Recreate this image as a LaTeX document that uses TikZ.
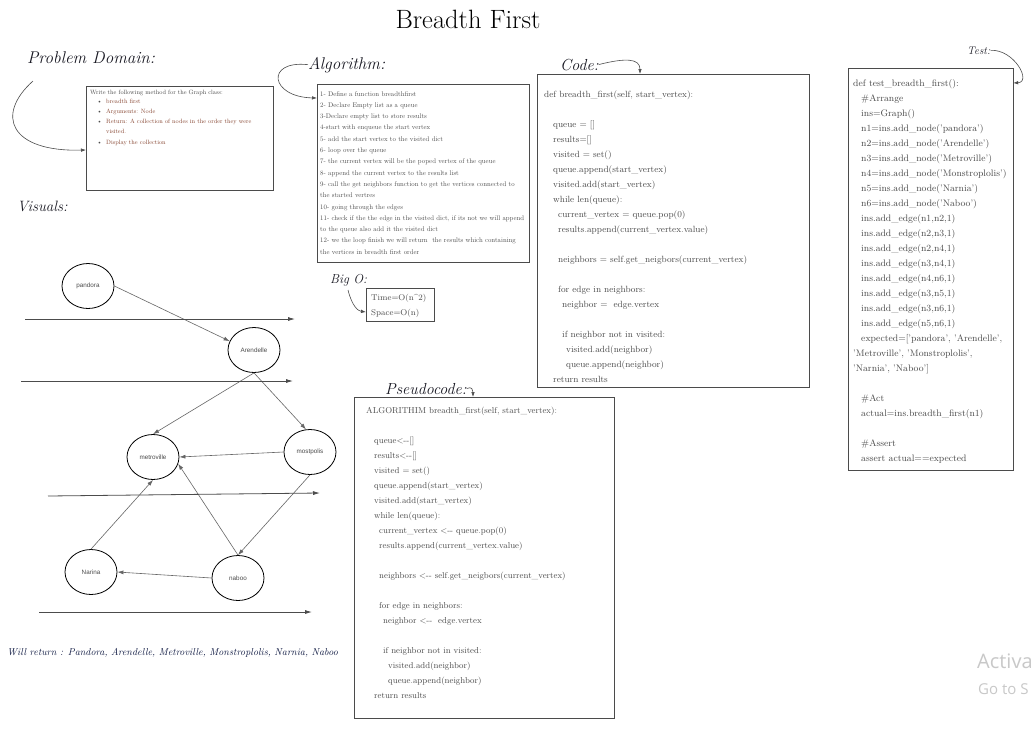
\documentclass[tikz,border=0pt]{standalone}
\usepackage{fontspec}
\newfontfamily\graphfont{Liberation Sans}
\newfontfamily\wmfont{Open Sans}
\usetikzlibrary{arrows.meta,shapes.geometric,calc}

\definecolor{inkgray}{RGB}{75,75,75}
\definecolor{framegray}{RGB}{75,75,75}
\definecolor{bulletred}{RGB}{135,70,50}
\definecolor{handink}{RGB}{25,25,35}
\definecolor{wmgray}{RGB}{200,200,200}

\newcommand{\shrunk}[2][0.66]{\scalebox{#1}{#2}}

\tikzset{
  panel/.style={draw=framegray,line width=1.2pt,anchor=north west,inner sep=0pt},
  codeline/.style={anchor=base west,inner sep=0pt,text=inkgray,font=\fontsize{9}{15}\selectfont},
  algoline/.style={anchor=base west,inner sep=0pt,text=inkgray,font=\fontsize{10}{12}\selectfont},
  probline/.style={anchor=base west,inner sep=0pt,font=\fontsize{9.3}{11}\selectfont},
  hand/.style={anchor=base west,inner sep=0pt,text=handink,font=\itshape\fontsize{16}{18}\selectfont},
  city/.style={draw,ellipse,line width=0.8pt,minimum width=52pt,minimum height=45pt,inner sep=0pt,
    text=inkgray,font=\graphfont\fontsize{6.3}{7}\selectfont},
  edge/.style={draw=black!60,line width=0.6pt,-{Latex[length=6pt,width=4pt]}},
  level/.style={draw=black!70,line width=0.8pt,-{Latex[length=7pt,width=4pt]}},
  pointer/.style={draw=black!70,line width=0.6pt,-{Latex[length=5pt,width=3.5pt]}},
}

\begin{document}
\begin{tikzpicture}[x=1pt,y=-1pt]
\useasboundingbox (0,0) rectangle (1035,731);
\clip (0,0) rectangle (1035,731);
\fill[white] (0,0) rectangle (1035,731);

\node[anchor=base,inner sep=0pt,font=\fontsize{26.5}{30}\selectfont] (title) at (468,28) {Breadth First};

% headings
\node[hand,font=\itshape\fontsize{17}{18}\selectfont] (problbl) at (27,63) {Problem Domain:};
\node[hand,font=\itshape\fontsize{15}{18}\selectfont] (vislbl) at (17,211) {Visuals:};
\node[hand,font=\itshape\fontsize{17}{18}\selectfont] (algolbl) at (308,69) {Algorithm:};
\node[hand] (codelbl) at (560,70) {Code:};
\node[hand,font=\itshape\fontsize{11}{12}\selectfont] (testlbl) at (967,54) {Test:};
\node[hand] (pseudolbl) at (385,394) {Pseudocode:};
\node[hand,font=\itshape\fontsize{13}{14}\selectfont] (bigolbl) at (330,283) {Big O:};
\node[hand,font=\itshape\fontsize{10}{11}\selectfont,text={rgb,255:red,20;green,30;blue,70}] (result) at (7,655)
  {Will return : Pandora, Arendelle, Metroville, Monstroplolis, Narnia, Naboo};

% panels
\node[panel,minimum width=187pt,minimum height=104pt] (probbox) at (86,86) {};
\node[panel,minimum width=212pt,minimum height=178pt] (algobox) at (317,84) {};
\node[panel,minimum width=68pt,minimum height=33pt] (bigobox) at (366,288) {};
\node[panel,minimum width=272pt,minimum height=313pt] (codebox) at (537,74) {};
\node[panel,minimum width=165pt,minimum height=402pt] (testbox) at (848,68) {};
\node[panel,minimum width=260pt,minimum height=321pt] (pseudobox) at (354,397) {};

% problem domain
\node[probline,text=inkgray] (prob-0) at (90,94) {\shrunk{Write the following method for the Graph class:}};
\foreach \y in {103,113,123,144}
  \node[probline,text=inkgray] (dot-\y) at (97,\y) {\shrunk{\textbullet}};
\foreach \y/\t in {103/{breadth first},113/{Arguments: Node},123/{Return: A collection of nodes in the order they were},133/{visited.},144/{Display the collection}}
  \node[probline,text=bulletred] (prob-\y) at (106,\y) {\shrunk{\t}};

% algorithm
\foreach \t [count=\i from 0] in {
  {1- Define a function breadthfirst},
  {2- Declare Empty list as a queue},
  {3-Declare empty list to store results},
  {4-start with enqueue the start vertex},
  {5- add the start vertex to the visited dict},
  {6- loop over the queue},
  {7- the current vertex will be the poped vertex of the queue},
  {8- append the current vertex to the results list},
  {9- call the get neighbors function to get the vertices connected to},
  {the started vertres},
  {10- going through the edges},
  {11- check if the the edge in the visited dict, if its not we will append},
  {to the queue also add it the visited dict},
  {12- we the loop finish we will return\ \ the results which containing},
  {the vertices in breadth first order}}
  \node[algoline] (algo-\i) at (320,96+11.3*\i) {\shrunk[0.68]{\t}};

% big o
\node[codeline,font=\fontsize{8.4}{10}\selectfont] (bigo-0) at (371,300) {Time=O(n\textasciicircum 2)};
\node[codeline,font=\fontsize{8.4}{10}\selectfont] (bigo-1) at (371,315) {Space=O(n)};

% code
\foreach \i/\x/\t in {
  0/544/{def breadth\_first(self, start\_vertex):},
  2/553/{queue = []},
  3/553/{results=[]},
  4/553/{visited = set()},
  5/553/{queue.append(start\_vertex)},
  6/553/{visited.add(start\_vertex)},
  7/553/{while len(queue):},
  8/558/{current\_vertex = queue.pop(0)},
  9/558/{results.append(current\_vertex.value)},
  11/558/{neighbors = self.get\_neigbors(current\_vertex)},
  13/558/{for edge in neighbors:},
  14/562/{neighbor = \ edge.vertex},
  16/562/{if neighbor not in visited:},
  17/566/{visited.add(neighbor)},
  18/566/{queue.append(neighbor)},
  19/553/{return results}}
  \node[codeline] (code-\i) at (\x,97+15*\i) {\t};

% pseudocode
\foreach \i/\x/\t in {
  0/366/{ALGORITHIM breadth\_first(self, start\_vertex):},
  2/374/{queue<-{}-[]},
  3/374/{results<-{}-[]},
  4/374/{visited = set()},
  5/374/{queue.append(start\_vertex)},
  6/374/{visited.add(start\_vertex)},
  7/374/{while len(queue):},
  8/379/{current\_vertex <-{}- queue.pop(0)},
  9/379/{results.append(current\_vertex.value)},
  11/379/{neighbors <-{}- self.get\_neigbors(current\_vertex)},
  13/379/{for edge in neighbors:},
  14/383/{neighbor <-{}- \ edge.vertex},
  16/383/{if neighbor not in visited:},
  17/388/{visited.add(neighbor)},
  18/388/{queue.append(neighbor)},
  19/374/{return results}}
  \node[codeline,font=\fontsize{8.6}{15}\selectfont] (pseudo-\i) at (\x,413+15*\i) {\t};

% test
\foreach \i/\x/\t in {
  0/853/{def test\_breadth\_first():},
  1/861/{\#Arrange},
  2/861/{ins=Graph()},
  3/861/{n1=ins.add\_node('pandora')},
  4/861/{n2=ins.add\_node('Arendelle')},
  5/861/{n3=ins.add\_node('Metroville')},
  6/861/{n4=ins.add\_node('Monstroplolis')},
  7/861/{n5=ins.add\_node('Narnia')},
  8/861/{n6=ins.add\_node('Naboo')},
  9/861/{ins.add\_edge(n1,n2,1)},
  10/861/{ins.add\_edge(n2,n3,1)},
  11/861/{ins.add\_edge(n2,n4,1)},
  12/861/{ins.add\_edge(n3,n4,1)},
  13/861/{ins.add\_edge(n4,n6,1)},
  14/861/{ins.add\_edge(n3,n5,1)},
  15/861/{ins.add\_edge(n3,n6,1)},
  16/861/{ins.add\_edge(n5,n6,1)},
  17/861/{expected=['pandora', 'Arendelle',},
  18/853/{'Metroville', 'Monstroplolis',},
  19/853/{'Narnia', 'Naboo']},
  21/861/{\#Act},
  22/861/{actual=ins.breadth\_first(n1)},
  24/861/{\#Assert},
  25/861/{assert actual==expected}}
  \node[codeline,font=\fontsize{9.4}{15}\selectfont] (test-\i) at (\x,86+15*\i) {\t};

% pointers from headings
\coordinate (probtail) at (33,81);
\coordinate (bigotail) at (348,290);
\draw[pointer] (probtail) .. controls (-5,115) and (10,152) .. ($(probbox.north west)+(0,64)$);
\draw[pointer] (algolbl.west) .. controls (265,60) and (270,97) .. ($(algobox.north west)+(0,14)$);
\draw[pointer] (bigotail) .. controls (352,306) and (358,311) .. ($(bigobox.north west)+(0,24)$);
\draw[pointer] (codelbl.east) .. controls (625,58) and (640,58) .. ($(codebox.north west)+(103,0)$);
\draw[pointer] (testlbl.east) .. controls (1014,49) and (1032,82) .. ($(testbox.north east)+(-1,15)$);
\draw[pointer] (pseudolbl.east) .. controls (472,386) and (473,390) .. ($(pseudobox.north west)+(119,0)$);

% graph
\node[city] (pandora) at (88,286) {pandora};
\node[city] (arendelle) at (254,350) {Arendelle};
\node[city] (metroville) at (153,457) {metroville};
\node[city] (mostpolis) at (310,452) {mostpolis};
\node[city] (narina) at (91,572) {Narina};
\node[city] (naboo) at (238,578) {naboo};

\draw[edge] (pandora.east) -- (arendelle.160);
\draw[edge] (arendelle.south) -- (metroville.north);
\draw[edge] (arendelle.south) -- (mostpolis.100);
\draw[edge] (mostpolis.west) -- (metroville.east);
\draw[edge] (naboo.north) -- (metroville.-15);
\draw[edge] (narina.north) -- (metroville.south);
\draw[edge] (mostpolis.south) -- (naboo.north);
\draw[edge] (naboo.west) -- (narina.east);

\coordinate (lvl1a) at (25,319);  \coordinate (lvl1b) at (295,319);
\coordinate (lvl2a) at (21,381);  \coordinate (lvl2b) at (293,381);
\coordinate (lvl3a) at (48,496);  \coordinate (lvl3b) at (320,493);
\coordinate (lvl4a) at (39,612);  \coordinate (lvl4b) at (312,612);
\foreach \k in {1,2,3,4}
  \draw[level] (lvl\k a) -- (lvl\k b);

% watermark
\node[anchor=base west,inner sep=0pt,text=wmgray,font=\wmfont\fontsize{20}{24}\selectfont] (wm-0) at (977,668) {Activa};
\node[anchor=base west,inner sep=0pt,text=wmgray,font=\wmfont\fontsize{15}{17}\selectfont] (wm-1) at (978,694) {Go to S};
\end{tikzpicture}
\end{document}
